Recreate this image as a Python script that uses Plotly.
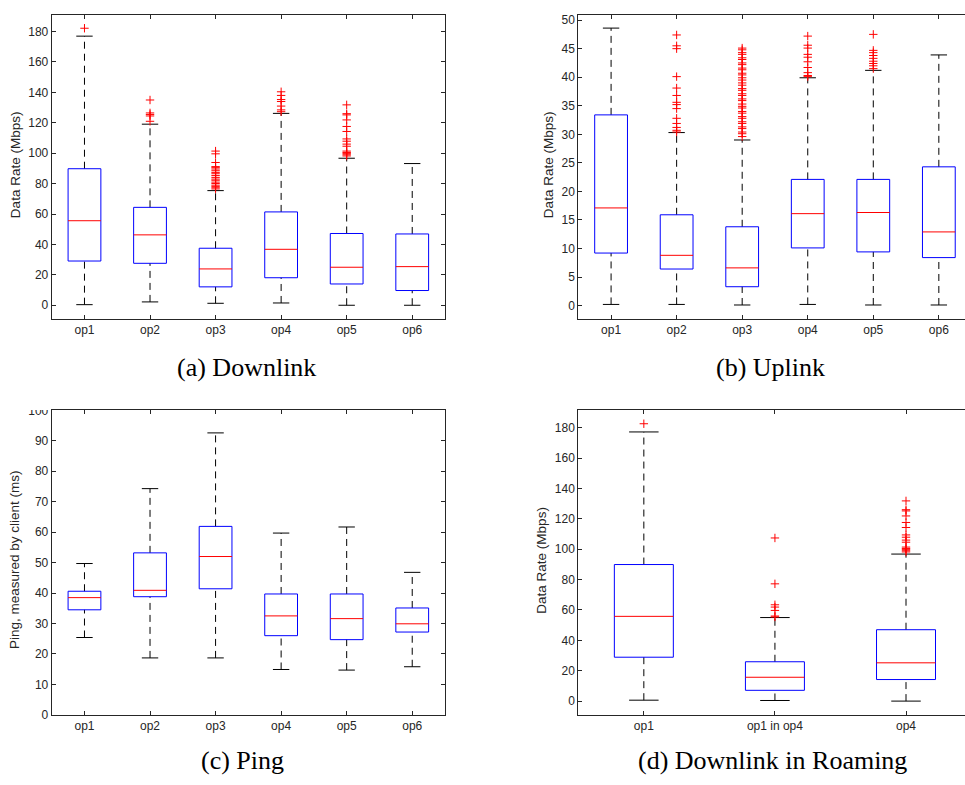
import plotly.graph_objects as go

W, H = 965, 785

# ---------------- data ----------------
ops6 = ["op1", "op2", "op3", "op4", "op5", "op6"]
roam_cats = ["op1", "op1 in op4", "op4"]

# (a) Downlink: [lower whisker, q1, median, q3, upper whisker]
dl_low = [0.4, 2.2, 1.3, 1.5, 0.0, 0.0]
dl_q1 = [29.1, 27.6, 12.1, 18.1, 14.0, 9.7]
dl_med = [55.6, 46.3, 23.9, 36.8, 25.0, 25.4]
dl_q3 = [89.8, 64.4, 37.5, 61.4, 47.2, 46.9]
dl_high = [177.0, 119.1, 75.4, 126.2, 96.7, 93.2]
dl_out = [
    [182.2],
    [121.0, 124.5, 125.5, 126.5, 135.0],
    [76.5, 77.3, 78.2, 79.0, 80.1, 81.0, 82.2, 83.0, 84.1, 85.3, 86.5, 87.4,
     88.5, 89.6, 90.5, 91.2, 93.9, 99.6, 101.4],
    [127.3, 128.5, 131.0, 134.0, 135.3, 138.0, 140.4],
    [98.2, 99.0, 99.9, 100.5, 101.4, 104.6, 106.0, 107.9, 109.4, 114.3, 117.6,
     121.9, 125.2, 126.0, 131.8],
    [],
]

# (b) Uplink
ul_low = [0.2, 0.2, 0.1, 0.2, 0.1, 0.1]
ul_q1 = [9.2, 6.4, 3.3, 10.1, 9.4, 8.4]
ul_med = [17.1, 8.8, 6.6, 16.1, 16.3, 12.9]
ul_q3 = [33.4, 15.9, 13.8, 22.1, 22.1, 24.3]
ul_high = [48.6, 30.3, 29.0, 39.9, 41.2, 43.9]
ul_out = [
    [],
    [30.4, 30.7, 31.2, 31.9, 32.8, 34.5, 35.2, 35.6, 36.8, 38.1, 40.1, 45.0, 45.5, 47.4],
    [29.6, 30.1, 30.4, 31.0, 31.3, 31.9, 32.2, 32.8, 33.1, 33.7, 34.0, 34.6,
     34.9, 35.3, 35.9, 36.2, 36.8, 37.1, 37.7, 38.0, 38.6, 39.0, 39.5, 39.9,
     40.4, 40.7, 41.3, 41.6, 42.2, 42.5, 43.1, 43.4, 44.0, 44.3, 44.8, 45.1],
    [40.1, 40.3, 40.8, 41.7, 42.7, 43.5, 44.0, 45.1, 45.6, 47.2],
    [41.5, 42.0, 42.4, 42.8, 43.3, 43.8, 44.3, 44.7, 47.5],
    [],
]

# (c) Ping
pg_low = [25.4, 18.7, 18.7, 14.9, 14.7, 15.8]
pg_q1 = [34.5, 38.8, 41.4, 26.0, 24.7, 27.2]
pg_med = [38.5, 40.9, 52.0, 32.5, 31.6, 29.9]
pg_q3 = [40.6, 53.2, 61.9, 39.7, 39.7, 35.1]
pg_high = [49.7, 74.3, 92.6, 59.7, 61.7, 46.8]
pg_out = [[], [], [], [], [], []]

# (d) Downlink in Roaming
rm_low = [0.6, 0.4, 0.0]
rm_q1 = [28.9, 7.1, 14.2]
rm_med = [55.8, 15.7, 25.2]
rm_q3 = [89.9, 25.9, 47.0]
rm_high = [177.2, 55.0, 96.8]
rm_out = [
    [182.6],
    [55.4, 56.0, 59.7, 61.9, 63.4, 77.2, 107.4],
    [98.2, 99.0, 99.9, 100.5, 101.4, 104.6, 106.0, 107.9, 109.4, 114.3, 117.6,
     121.9, 125.2, 126.0, 131.8],
]

# ---------------- style ----------------
AX_COL = "#262626"
TICK_FONT = dict(family="Liberation Sans, Arial, sans-serif", size=12, color=AX_COL)
TITLE_FONT = dict(family="Liberation Sans, Arial, sans-serif", size=13.5, color=AX_COL)
CAP_FONT = dict(family="Liberation Serif, Times New Roman, serif", size=26, color="#000000")


def px_x(p):
    return p / W


def px_y(p):
    return 1 - p / H


fig = go.Figure()


def add_boxes(xref, yref, low, q1, med, q3, high, outs, hw):
    cw = hw / 2
    wx, wy, cx, cy, bx, by, mx, my, ox, oy = [], [], [], [], [], [], [], [], [], []
    for i in range(len(med)):
        c = i + 1
        wx += [c, c, None, c, c, None]
        wy += [low[i], q1[i], None, q3[i], high[i], None]
        cx += [c - cw, c + cw, None, c - cw, c + cw, None]
        cy += [low[i], low[i], None, high[i], high[i], None]
        bx += [c - hw, c + hw, c + hw, c - hw, c - hw, None]
        by += [q1[i], q1[i], q3[i], q3[i], q1[i], None]
        mx += [c - hw, c + hw, None]
        my += [med[i], med[i], None]
        for v in outs[i]:
            ox.append(c)
            oy.append(v)
    common = dict(xaxis=xref, yaxis=yref, showlegend=False, hoverinfo="skip")
    fig.add_trace(go.Scatter(x=wx, y=wy, mode="lines",
                             line=dict(color="black", width=1, dash="7px,5px"), **common))
    fig.add_trace(go.Scatter(x=cx, y=cy, mode="lines",
                             line=dict(color="black", width=1), **common))
    fig.add_trace(go.Scatter(x=bx, y=by, mode="lines",
                             line=dict(color="#0000FF", width=1), **common))
    fig.add_trace(go.Scatter(x=mx, y=my, mode="lines",
                             line=dict(color="#FF0000", width=1), **common))
    if ox:
        fig.add_trace(go.Scatter(x=ox, y=oy, mode="markers",
                                 marker=dict(symbol="cross-thin-open", size=6,
                                             color="#FF0000",
                                             line=dict(color="#FF0000", width=1)),
                                 **common))


add_boxes("x", "y", dl_low, dl_q1, dl_med, dl_q3, dl_high, dl_out, 0.25)
add_boxes("x2", "y2", ul_low, ul_q1, ul_med, ul_q3, ul_high, ul_out, 0.25)
add_boxes("x3", "y3", pg_low, pg_q1, pg_med, pg_q3, pg_high, pg_out, 0.25)
add_boxes("x4", "y4", rm_low, rm_q1, rm_med, rm_q3, rm_high, rm_out, 0.225)

# domains (pixel geometry of the reference)
XA = [px_x(51.7), px_x(445.0)]
XB = [px_x(578.3), 1.0]
YT = [px_y(317.3), px_y(8.0)]
YB = [px_y(720.7), px_y(410.7)]


def xax(domain, anchor, cats, rng):
    return dict(domain=domain, anchor=anchor, range=rng, tickmode="array",
                tickvals=list(range(1, len(cats) + 1)), ticktext=cats,
                showline=True, linecolor=AX_COL, linewidth=1, mirror="ticks",
                ticks="inside", ticklen=4, tickcolor=AX_COL, tickfont=TICK_FONT,
                showgrid=False, zeroline=False, fixedrange=True)


def yax(domain, anchor, rng, dtick, mirror):
    return dict(domain=domain, anchor=anchor, range=rng, tick0=0, dtick=dtick,
                showline=True, linecolor=AX_COL, linewidth=1, mirror=mirror,
                ticks="inside", ticklen=4, tickcolor=AX_COL, tickfont=TICK_FONT,
                showgrid=False, zeroline=False, fixedrange=True)


fig.update_layout(
    width=W, height=H, margin=dict(l=0, r=0, t=0, b=0),
    paper_bgcolor="white", plot_bgcolor="white",
    xaxis=xax(XA, "y", ops6, [0.5, 6.5]),
    yaxis=yax(YT, "x", [-8.8, 191.0], 20, "ticks"),
    xaxis2=xax(XB, "y2", ops6, [0.5, 6.399]),
    yaxis2=yax(YT, "x2", [-2.29, 50.92], 5, False),
    xaxis3=xax(XA, "y3", ops6, [0.5, 6.5]),
    yaxis3=yax(YB, "x3", [0, 100], 10, "ticks"),
    xaxis4=xax(XB, "y4", roam_cats, [0.5, 3.45]),
    yaxis4=yax(YB, "x4", [-9.05, 191.4], 20, False),
)

annots = [
    # y-axis titles
    dict(text="Data Rate (Mbps)", x=px_x(15), y=px_y(161), font=TITLE_FONT),
    dict(text="Data Rate (Mbps)", x=px_x(548), y=px_y(161), font=TITLE_FONT),
    dict(text="Ping, measured by client (ms)", x=px_x(15), y=px_y(563), font=TITLE_FONT),
    dict(text="Data Rate (Mbps)", x=px_x(541.7), y=px_y(563), font=TITLE_FONT),
]
for a in annots:
    a.update(xref="paper", yref="paper", textangle=-90, showarrow=False,
             xanchor="center", yanchor="middle")
captions = [
    dict(text="(a) Downlink", x=px_x(246), y=px_y(367)),
    dict(text="(b) Uplink", x=px_x(770), y=px_y(367)),
    dict(text="(c) Ping", x=px_x(243), y=px_y(767)),
    dict(text="(d) Downlink in Roaming", x=px_x(772), y=px_y(767)),
]
for c in captions:
    c.update(xref="paper", yref="paper", showarrow=False, xanchor="center",
             yanchor="middle", font=CAP_FONT)
fig.update_layout(annotations=annots + captions)

# crop band above panel (c), as in the reference image
fig.add_shape(type="rect", xref="paper", yref="paper", layer="above",
              x0=0, x1=px_x(49), y0=px_y(410.3), y1=px_y(395),
              fillcolor="white", line=dict(width=0))

fig.write_html("out.html")
